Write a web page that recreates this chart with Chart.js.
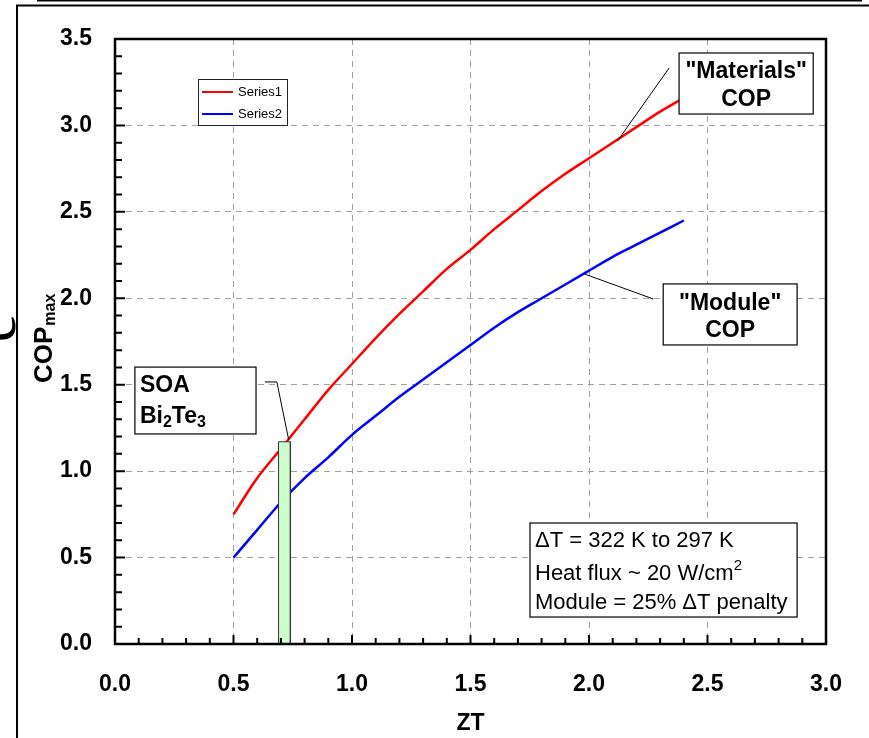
<!DOCTYPE html>
<html>
<head>
<meta charset="utf-8">
<script src="https://cdn.jsdelivr.net/npm/chart.js@4.4.0/dist/chart.umd.min.js"></script>
<style>
  html, body { margin: 0; padding: 0; background: #fff; }
  #wrap { width: 869px; height: 738px; }
</style>
</head>
<body>
<div id="wrap"><canvas id="chart" width="869" height="738"></canvas></div>
<script>
// values
var zt = [0.5, 0.6, 0.7, 0.8, 0.9, 1.0, 1.1, 1.2, 1.3, 1.4, 1.5, 1.6, 1.7, 1.8, 1.9, 2.0, 2.1, 2.2, 2.3, 2.4];
var materialsCop = [0.75, 0.96, 1.13, 1.30, 1.47, 1.62, 1.77, 1.91, 2.04, 2.17, 2.28, 2.40, 2.51, 2.62, 2.72, 2.81, 2.90, 2.99, 3.08, 3.16];
var moduleCop = [0.50, 0.66, 0.82, 0.96, 1.08, 1.21, 1.32, 1.43, 1.53, 1.63, 1.73, 1.83, 1.92, 2.00, 2.08, 2.16, 2.24, 2.31, 2.38, 2.45];
var seriesNames = ['Series1', 'Series2'];

// state of the art Bi2Te3 band
var soaZt = [0.69, 0.74];
var soaTop = 1.17;

var FONT = '"Liberation Sans", Arial, sans-serif';

function pts(xs, ys) {
  return xs.map(function (x, i) { return { x: x, y: ys[i] }; });
}

// callouts, anchored in data units (box = [x1, yTop, x2, yBottom])
var notes = [
  { box: [2.38, 3.419, 2.946, 3.066], align: 'center', weight: 'bold', size: 23,
    lines: [['"Materials"'], ['COP']], base: [25, 53],
    leader: [[2.338, 3.332], [2.120, 2.910]] },
  { box: [2.313, 2.083, 2.878, 1.730], align: 'center', weight: 'bold', size: 23,
    lines: [['"Module"'], ['COP']], base: [26, 53],
    leader: [[1.982, 2.140], [2.271, 1.996]] },
  { box: [0.084, 1.602, 0.595, 1.215], align: 'left', weight: 'bold', size: 23,
    lines: [['SOA'], ['Bi', { t: '2', sub: true }, 'Te', { t: '3', sub: true }]], base: [25, 56],
    leader: [[0.633, 1.516], [0.683, 1.516], [0.733, 1.180]] },
  { box: [1.751, 0.700, 2.878, 0.156], align: 'left', weight: 'normal', size: 22,
    lines: [['\u0394T = 322 K to 297 K'], ['Heat flux ~ 20 W/cm', { t: '2', sup: true }], ['Module = 25% \u0394T penalty']],
    base: [24, 57, 86] }
];

function drawRich(ctx, segs, x, y, align, size, weight) {
  var parts = segs.map(function (s) { return typeof s === 'string' ? { t: s } : s; });
  var total = 0;
  parts.forEach(function (p) {
    p.fs = (p.sub || p.sup) ? Math.round(size * 0.68) : size;
    ctx.font = weight + ' ' + p.fs + 'px ' + FONT;
    p.w = ctx.measureText(p.t).width;
    total += p.w;
  });
  var cx = align === 'center' ? x - total / 2 : x;
  parts.forEach(function (p) {
    ctx.font = weight + ' ' + p.fs + 'px ' + FONT;
    var dy = p.sub ? size * 0.18 : (p.sup ? -size * 0.45 : 0);
    ctx.fillText(p.t, cx, y + dy);
    cx += p.w;
  });
}

var decor = {
  id: 'decor',
  beforeDraw: function (chart) {
    var ctx = chart.ctx;
    ctx.save();
    ctx.fillStyle = '#fff';
    ctx.fillRect(0, 0, chart.width, chart.height);
    // slide frame bits
    ctx.strokeStyle = '#000';
    ctx.lineWidth = 1.5;
    ctx.beginPath();
    ctx.moveTo(37, 0.7); ctx.lineTo(862, 0.7);
    ctx.stroke();
    ctx.lineWidth = 2;
    ctx.beginPath();
    ctx.moveTo(17, 738); ctx.lineTo(17, 5.5); ctx.lineTo(869, 5.5);
    ctx.stroke();
    ctx.fillStyle = '#000';
    ctx.font = '64px "Liberation Serif", serif';
    ctx.translate(15, 328);
    ctx.rotate(-Math.PI / 2);
    ctx.textAlign = 'center';
    ctx.fillText('e', 0, 0);
    ctx.restore();
  },
  afterDatasetsDraw: function (chart) {
    var ctx = chart.ctx, a = chart.chartArea;
    var xs = chart.scales.x, ys = chart.scales.y;
    ctx.save();

    // inward ticks
    ctx.strokeStyle = '#000';
    ctx.lineWidth = 2;
    ctx.beginPath();
    for (var i = 0; i <= 35; i++) {
      var py = ys.getPixelForValue(i / 10);
      var ly = i % 5 === 0 ? 10 : 7;
      ctx.moveTo(a.left, py); ctx.lineTo(a.left + ly, py);
    }
    for (var j = 0; j <= 30; j++) {
      var px = xs.getPixelForValue(j / 10);
      var lx = j % 5 === 0 ? 9 : 6;
      ctx.moveTo(px, a.bottom); ctx.lineTo(px, a.bottom - lx);
    }
    ctx.stroke();

    // plot frame
    ctx.lineWidth = 2.5;
    ctx.strokeRect(a.left, a.top, a.right - a.left, a.bottom - a.top);

    // legend
    var lx0 = a.left + 83, ly0 = a.top + 40;
    ctx.fillStyle = '#fff';
    ctx.fillRect(lx0, ly0, 89, 46);
    ctx.lineWidth = 1;
    ctx.strokeStyle = '#222';
    ctx.strokeRect(lx0 + 0.5, ly0 + 0.5, 89, 46);
    ctx.font = '13px ' + FONT;
    ctx.textBaseline = 'middle';
    chart.data.datasets.forEach(function (ds) {
      var k = seriesNames.indexOf(ds.label);
      if (k < 0) return;
      var yy = ly0 + 13 + k * 22;
      ctx.strokeStyle = ds.borderColor;
      ctx.lineWidth = 2;
      ctx.beginPath();
      ctx.moveTo(lx0 + 4, yy); ctx.lineTo(lx0 + 35, yy);
      ctx.stroke();
      ctx.fillStyle = '#000';
      ctx.fillText(ds.label, lx0 + 40, yy);
    });

    // callouts
    ctx.textBaseline = 'alphabetic';
    notes.forEach(function (n) {
      if (n.leader) {
        ctx.strokeStyle = '#000';
        ctx.lineWidth = 1;
        ctx.beginPath();
        n.leader.forEach(function (p, q) {
          var X = xs.getPixelForValue(p[0]), Y = ys.getPixelForValue(p[1]);
          if (q === 0) ctx.moveTo(X, Y); else ctx.lineTo(X, Y);
        });
        ctx.stroke();
      }
      var x1 = xs.getPixelForValue(n.box[0]), y1 = ys.getPixelForValue(n.box[1]);
      var x2 = xs.getPixelForValue(n.box[2]), y2 = ys.getPixelForValue(n.box[3]);
      ctx.fillStyle = '#fff';
      ctx.fillRect(x1, y1, x2 - x1, y2 - y1);
      ctx.strokeStyle = '#000';
      ctx.lineWidth = 1.2;
      ctx.strokeRect(x1, y1, x2 - x1, y2 - y1);
      ctx.fillStyle = '#000';
      n.lines.forEach(function (line, r) {
        var tx = n.align === 'center' ? (x1 + x2) / 2 : x1 + 5;
        drawRich(ctx, line, tx, y1 + n.base[r], n.align, n.size, n.weight);
      });
    });

    // y axis title with subscript
    ctx.translate(52, 383);
    ctx.rotate(-Math.PI / 2);
    ctx.fillStyle = '#000';
    ctx.font = 'bold 26px ' + FONT;
    ctx.fillText('COP', 0, 0);
    var w = ctx.measureText('COP').width;
    ctx.font = 'bold 16px ' + FONT;
    ctx.fillText('max', w + 1, 3);
    ctx.restore();
  }
};

new Chart(document.getElementById('chart'), {
  type: 'line',
  data: {
    datasets: [{
      label: 'SOA',
      data: [{ x: soaZt[0], y: 0 }, { x: soaZt[0], y: soaTop }, { x: soaZt[1], y: soaTop }, { x: soaZt[1], y: 0 }],
      borderColor: '#333',
      borderWidth: 1,
      backgroundColor: '#ccffcc',
      fill: 'origin',
      pointRadius: 0,
      tension: 0
    }, {
      label: seriesNames[0],
      data: pts(zt, materialsCop),
      borderColor: '#ff0000',
      borderWidth: 2.5,
      pointRadius: 0,
      fill: false,
      cubicInterpolationMode: 'monotone'
    }, {
      label: seriesNames[1],
      data: pts(zt, moduleCop),
      borderColor: '#0000ff',
      borderWidth: 2.5,
      pointRadius: 0,
      fill: false,
      cubicInterpolationMode: 'monotone'
    }]
  },
  options: {
    responsive: false,
    animation: false,
    layout: { padding: { top: 39, right: 38, left: 0, bottom: 0 } },
    plugins: { legend: { display: false }, tooltip: { enabled: false } },
    scales: {
      x: {
        type: 'linear',
        min: 0, max: 3,
        afterFit: function (s) { s.height = 94; },
        ticks: {
          stepSize: 0.5, padding: 27, color: '#000',
          font: { family: FONT, size: 23, weight: 'bold' },
          callback: function (v) { return v.toFixed(1); }
        },
        grid: { color: '#a0a0a0', lineWidth: 1, drawTicks: false },
        border: { display: false, dash: [6, 5] },
        title: {
          display: true, text: 'ZT', color: '#000',
          font: { family: FONT, size: 23, weight: 'bold' },
          padding: { top: 0, bottom: 1 }
        }
      },
      y: {
        min: 0, max: 3.5,
        afterFit: function (s) { s.width = 115; },
        ticks: {
          stepSize: 0.5, padding: 23, color: '#000',
          font: { family: FONT, size: 23, weight: 'bold' },
          callback: function (v) { return v.toFixed(1); }
        },
        grid: { color: '#a0a0a0', lineWidth: 1, drawTicks: false },
        border: { display: false, dash: [6, 5] }
      }
    }
  },
  plugins: [decor]
});
</script>
</body>
</html>
